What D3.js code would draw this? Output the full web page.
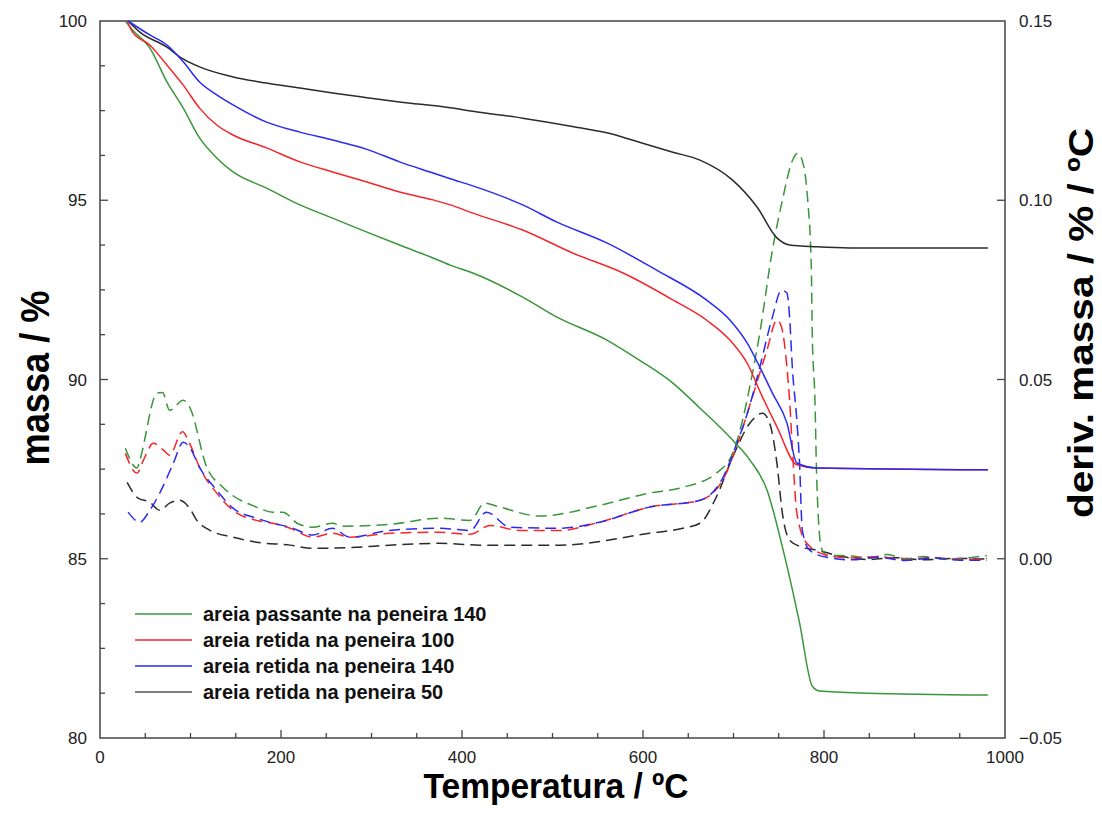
<!DOCTYPE html>
<html>
<head>
<meta charset="utf-8">
<script src="https://cdn.jsdelivr.net/npm/d3@7"></script>
<style>
  body { margin: 0; background: #fff; }
  svg { font-family: "Liberation Sans", Arial, sans-serif; }
</style>
</head>
<body>
<svg id="chart" width="1102" height="821"></svg>
<script>
// massa (%) vs temperatura (ºC)
var massaPassante140 = [[28,100],[36,99.75],[55,99.25],[74,98.3],[92,97.57],[110,96.74],[129,96.18],[147,95.79],[184,95.34],[221,94.87],[257,94.5],[295,94.11],[331,93.75],[368,93.39],[387,93.19],[412,92.97],[467,92.3],[505,91.74],[560,91.1],[596,90.54],[633,89.9],[663,89.2],[699,88.31],[718,87.76],[737,86.92],[754,85.33],[773,83.21],[787,81.45],[795,81.31],[847,81.25],[981,81.2]];
var massaRetida100 = [[30,100],[36,99.69],[55,99.33],[74,98.77],[92,98.21],[110,97.57],[129,97.1],[147,96.82],[184,96.46],[221,96.07],[257,95.79],[295,95.51],[331,95.23],[368,95.01],[387,94.87],[412,94.64],[467,94.17],[522,93.53],[578,92.97],[633,92.22],[670,91.66],[696,91.1],[715,90.46],[732,89.51],[748,88.68],[770,87.62],[792,87.53],[981,87.48]];
var massaRetida140 = [[31,100],[55,99.61],[74,99.33],[92,98.86],[110,98.3],[129,97.94],[147,97.66],[184,97.18],[221,96.9],[257,96.68],[295,96.42],[331,96.07],[368,95.76],[387,95.6],[412,95.4],[467,94.87],[505,94.39],[560,93.81],[615,93.05],[670,92.22],[696,91.66],[715,91.02],[729,90.35],[743,89.62],[759,88.79],[770,87.67],[792,87.53],[981,87.48]];
var massaRetida50 = [[31,100],[44,99.69],[74,99.27],[88,99.0],[110,98.72],[147,98.44],[184,98.27],[221,98.13],[257,97.99],[295,97.86],[331,97.74],[387,97.58],[412,97.48],[467,97.29],[522,97.06],[560,96.88],[596,96.62],[633,96.34],[663,96.12],[699,95.56],[726,94.81],[748,93.95],[762,93.75],[792,93.7],[828,93.67],[981,93.67]];

// deriv. massa (% / ºC)
var derivPassante140 = [[28,0.0308],[41,0.0253],[44,0.0275],[63,0.0462],[69,0.0464],[77,0.0414],[92,0.0442],[99,0.0423],[118,0.0255],[136,0.0199],[173,0.0144],[191,0.013],[202,0.013],[218,0.0099],[235,0.0088],[257,0.0099],[268,0.0091],[320,0.0096],[375,0.0113],[409,0.0107],[425,0.0155],[442,0.0144],[486,0.0119],[552,0.0149],[607,0.0183],[644,0.0199],[681,0.0239],[699,0.0294],[710,0.0386],[718,0.048],[729,0.0629],[743,0.0861],[754,0.1],[765,0.111],[771,0.1131],[776,0.111],[782,0.1],[786,0.0813],[787,0.0629],[790,0.0442],[792,0.0219],[797,0.0032],[803,0.001],[830,0.0008],[850,0.0002],[870,0.0012],[890,0.0],[910,0.0006],[935,-0.0002],[960,0.0003],[980,0.0009]];
var derivRetida100 = [[28,0.0294],[41,0.0239],[48,0.0275],[59,0.0322],[70,0.0303],[77,0.0289],[91,0.0354],[99,0.0322],[110,0.0255],[129,0.0183],[147,0.0135],[173,0.0107],[191,0.0099],[210,0.0085],[235,0.006],[257,0.0071],[276,0.006],[320,0.0071],[375,0.0074],[409,0.0068],[431,0.0093],[464,0.0079],[508,0.0079],[552,0.0102],[607,0.0144],[663,0.0163],[688,0.0219],[703,0.0311],[718,0.0428],[737,0.0582],[748,0.0666],[753,0.0647],[759,0.0535],[762,0.0442],[765,0.0311],[770,0.0127],[781,0.0043],[803,0.001],[830,0.0002],[860,0.0006],[890,-0.0003],[920,0.0003],[950,-0.0002],[980,0.0001]];
var derivRetida140 = [[31,0.013],[44,0.0102],[55,0.0135],[66,0.0183],[81,0.0266],[92,0.0325],[99,0.0311],[110,0.0255],[129,0.0191],[147,0.0141],[173,0.0113],[191,0.0099],[210,0.0088],[235,0.0066],[257,0.0085],[276,0.006],[320,0.0079],[375,0.0085],[409,0.0079],[427,0.013],[453,0.0088],[508,0.0085],[552,0.0102],[607,0.0144],[663,0.0163],[688,0.0225],[703,0.0317],[718,0.0428],[729,0.0534],[743,0.0674],[753,0.0749],[759,0.0741],[762,0.0674],[765,0.0534],[770,0.0386],[773,0.0266],[776,0.008],[784,0.0024],[803,0.0004],[830,-0.0003],[860,0.0004],[890,-0.0005],[920,0.0002],[950,-0.0004],[980,-0.0004]];
var derivRetida50 = [[30,0.0213],[42,0.0169],[55,0.0158],[66,0.0135],[77,0.0155],[88,0.0163],[99,0.0141],[107,0.0107],[121,0.008],[147,0.006],[173,0.0046],[210,0.0038],[235,0.0029],[284,0.0032],[320,0.0038],[375,0.0043],[420,0.0038],[508,0.0038],[607,0.0071],[644,0.0085],[663,0.0099],[681,0.0172],[699,0.0283],[718,0.0378],[732,0.0406],[740,0.0378],[748,0.0266],[754,0.0127],[762,0.0052],[776,0.0032],[792,0.0024],[820,0.0006],[850,-0.0002],[880,0.0003],[910,-0.0003],[940,0.0001],[980,-0.0001]];

var legendLabels = ["areia passante na peneira 140", "areia retida na peneira 100", "areia retida na peneira 140", "areia retida na peneira 50"];
var seriesColors = ["#3a963a", "#f5262a", "#2a2af5", "#2b2b2b"];
var xTicks = [0, 200, 400, 600, 800, 1000];
var yLeftTicks = [80, 85, 90, 95, 100];
var yRightTicks = [-0.05, 0.00, 0.05, 0.10, 0.15];

var svg = d3.select("#chart");
var pLeft = 100, pRight = 1005, pTop = 21, pBottom = 738;

var x = d3.scaleLinear().domain([0, 1000]).range([pLeft, pRight]);
var yL = d3.scaleLinear().domain([80, 100]).range([pBottom, pTop]);
var yR = d3.scaleLinear().domain([-0.05, 0.15]).range([pBottom, pTop]);

var axisColor = "#444";

// frame
svg.append("rect")
  .attr("x", pLeft).attr("y", pTop)
  .attr("width", pRight - pLeft).attr("height", pBottom - pTop)
  .attr("fill", "none").attr("stroke", axisColor).attr("stroke-width", 1.5);

// ticks (inward)
var g = svg.append("g").attr("stroke", axisColor).attr("stroke-width", 1.3);
d3.range(50, 1000, 50).forEach(function(t) {
  var len = (t % 200 === 0) ? 8 : 5;
  g.append("line").attr("x1", x(t)).attr("x2", x(t)).attr("y1", pBottom).attr("y2", pBottom - len);
});
d3.range(81.25, 100, 1.25).forEach(function(v) {
  var len = (Math.abs(v % 5) < 1e-6) ? 8 : 5;
  g.append("line").attr("x1", pLeft).attr("x2", pLeft + len).attr("y1", yL(v)).attr("y2", yL(v));
});
yRightTicks.slice(1, -1).forEach(function(v) {
  g.append("line").attr("x1", pRight).attr("x2", pRight - 8).attr("y1", yR(v)).attr("y2", yR(v));
});

// tick labels
var labels = svg.append("g").attr("font-size", "17px").attr("fill", "#222");
xTicks.forEach(function(t) {
  labels.append("text").attr("x", x(t)).attr("y", pBottom + 25)
    .attr("text-anchor", "middle").text(t);
});
yLeftTicks.forEach(function(v) {
  labels.append("text").attr("x", pLeft - 13).attr("y", yL(v) + 6)
    .attr("text-anchor", "end").text(v);
});
yRightTicks.forEach(function(v) {
  labels.append("text").attr("x", pRight + 14).attr("y", yR(v) + 6)
    .attr("text-anchor", "start").text(d3.format(".2f")(v));
});

// axis titles
svg.append("text")
  .attr("x", 556).attr("y", 798)
  .attr("text-anchor", "middle")
  .attr("font-size", 35).attr("font-weight", "bold")
  .attr("textLength", 265).attr("lengthAdjust", "spacingAndGlyphs")
  .text("Temperatura / ºC");
svg.append("text")
  .attr("transform", "translate(49,378) rotate(-90)")
  .attr("text-anchor", "middle")
  .attr("font-size", 40).attr("font-weight", "bold")
  .attr("textLength", 175).attr("lengthAdjust", "spacingAndGlyphs")
  .text("massa / %");
svg.append("text")
  .attr("transform", "translate(1093,323) rotate(-90)")
  .attr("text-anchor", "middle")
  .attr("font-size", 35).attr("font-weight", "bold")
  .attr("textLength", 390).attr("lengthAdjust", "spacingAndGlyphs")
  .text("deriv. massa / % / ºC");

// curves
var lineL = d3.line().x(function(d) { return x(d[0]); }).y(function(d) { return yL(d[1]); }).curve(d3.curveMonotoneX);
var lineR = d3.line().x(function(d) { return x(d[0]); }).y(function(d) { return yR(d[1]); }).curve(d3.curveMonotoneX);

var derivs = [derivPassante140, derivRetida100, derivRetida140, derivRetida50];
var massas = [massaPassante140, massaRetida100, massaRetida140, massaRetida50];

var curves = svg.append("g").attr("fill", "none");
[3, 0, 1, 2].forEach(function(i) {
  curves.append("path").attr("d", lineR(derivs[i]))
    .attr("stroke", seriesColors[i]).attr("stroke-width", 1.5)
    .attr("stroke-dasharray", "11,6");
});
[0, 3, 1, 2].forEach(function(i) {
  curves.append("path").attr("d", lineL(massas[i]))
    .attr("stroke", seriesColors[i]).attr("stroke-width", 1.5);
});

// legend
var legend = svg.append("g");
legendLabels.forEach(function(lbl, i) {
  var yy = 614 + i * 26;
  legend.append("line").attr("x1", 135).attr("x2", 192).attr("y1", yy).attr("y2", yy)
    .attr("stroke", i === 3 ? "#555" : seriesColors[i]).attr("stroke-width", 1.5);
  legend.append("text").attr("x", 203).attr("y", yy + 7)
    .attr("font-size", 20).attr("font-weight", "bold").attr("fill", "#111")
    .text(lbl);
});
</script>
</body>
</html>
